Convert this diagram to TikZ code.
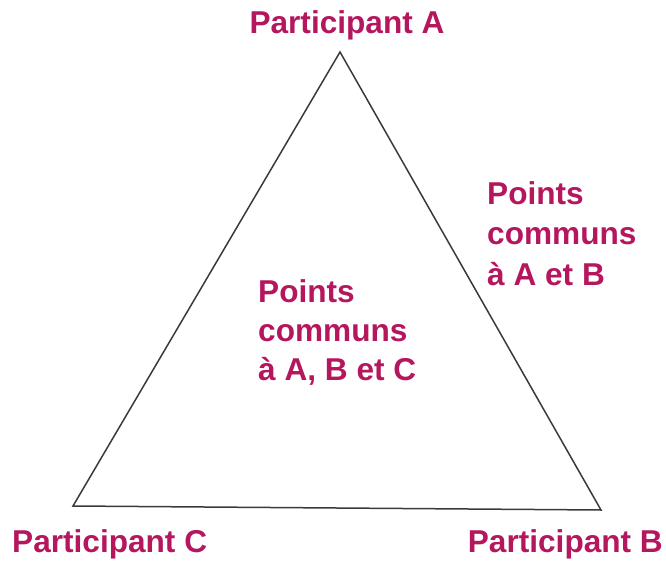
\documentclass[tikz,border=0pt]{standalone}
\usepackage{fontspec}
\setmainfont{Liberation Sans}
\definecolor{labelred}{HTML}{B5175E}
\definecolor{edgegray}{HTML}{3A3A3A}
\begin{document}
\begin{tikzpicture}[x=1pt,y=-1pt,
  lbl/.style={text=labelred,font=\fontsize{31.6}{40}\selectfont\bfseries,inner sep=0pt},
  side/.style={draw=edgegray,line width=1.5pt,line join=miter}]
\useasboundingbox (0,0) rectangle (666,561);
\coordinate (A) at (340,52);
\coordinate (C) at (73,506);
\coordinate (B) at (601,510);
\draw[side] (A) -- (B) -- (C) -- cycle;
\node[lbl,anchor=base] (pa) at (347,34) {Participant A};
\node[lbl,anchor=base west] (pc) at (12,552) {Participant C};
\node[lbl,anchor=base east] (pb) at (663,552) {Participant B};
\node[lbl,anchor=base west] (abc1) at (258,302) {Points};
\node[lbl,anchor=base west] (abc2) at (258,341) {communs};
\node[lbl,anchor=base west] (abc3) at (258,380) {à A, B et C};
\node[lbl,anchor=base west] (ab1) at (487,205) {Points};
\node[lbl,anchor=base west] (ab2) at (487,245) {communs};
\node[lbl,anchor=base west] (ab3) at (487,285) {à A et B};
\end{tikzpicture}
\end{document}
